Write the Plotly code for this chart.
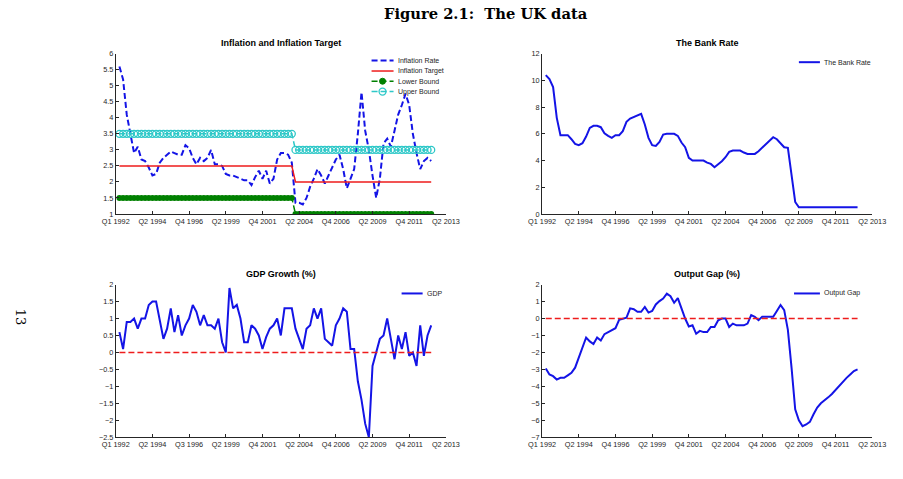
import plotly.graph_objects as go

# ---------------- data ----------------
quarters = list(range(1, 87))

tick_pos = [0, 10, 20, 30, 40, 50, 60, 70, 80, 90]
tick_labels = ["Q1 1992", "Q2 1994", "Q4 1996", "Q2 1999", "Q4 2001",
               "Q2 2004", "Q4 2006", "Q2 2009", "Q4 2011", "Q2 2013"]
tick_labels_gdp = ["Q1 1992", "Q2 1994", "Q3 1996", "Q2 1999", "Q4 2001",
                   "Q2 2004", "Q4 2006", "Q2 2009", "Q4 2011", "Q2 2013"]

inflation_rate = [
    5.6, 5.2, 4.1, 3.55, 2.9, 3.1, 2.7, 2.65, 2.45, 2.2,
    2.25, 2.6, 2.75, 2.85, 2.95, 2.9, 2.85, 2.85, 3.15, 3.05,
    2.75, 2.55, 2.75, 2.65, 2.75, 3.0, 2.55, 2.55, 2.5, 2.25,
    2.2, 2.2, 2.15, 2.1, 2.05, 2.05, 1.9, 2.15, 2.35, 2.1,
    2.35, 1.95, 2.1, 2.7, 2.9, 2.9, 2.85, 2.6, 1.35, 1.35,
    1.3, 1.5, 1.85, 2.1, 2.4, 2.2, 1.95, 2.2, 2.45, 2.7,
    2.85, 2.4, 1.8, 2.1, 2.4, 3.5, 4.8, 3.6, 3.0, 2.2,
    1.5, 2.1, 3.2, 3.35, 3.1, 3.6, 4.1, 4.4, 4.75, 4.4,
    3.5, 2.9, 2.4, 2.65, 2.75, 2.65]

inflation_target = [
    2.5, 2.5, 2.5, 2.5, 2.5, 2.5, 2.5, 2.5, 2.5, 2.5, 2.5, 2.5,
    2.5, 2.5, 2.5, 2.5, 2.5, 2.5, 2.5, 2.5, 2.5, 2.5, 2.5, 2.5,
    2.5, 2.5, 2.5, 2.5, 2.5, 2.5, 2.5, 2.5, 2.5, 2.5, 2.5, 2.5,
    2.5, 2.5, 2.5, 2.5, 2.5, 2.5, 2.5, 2.5, 2.5, 2.5, 2.5, 2.5,
    2.0, 2.0, 2.0, 2.0, 2.0, 2.0, 2.0, 2.0, 2.0, 2.0, 2.0, 2.0,
    2.0, 2.0, 2.0, 2.0, 2.0, 2.0, 2.0, 2.0, 2.0, 2.0, 2.0, 2.0,
    2.0, 2.0, 2.0, 2.0, 2.0, 2.0, 2.0, 2.0, 2.0, 2.0, 2.0, 2.0,
    2.0, 2.0]

lower_bound = [
    1.5, 1.5, 1.5, 1.5, 1.5, 1.5, 1.5, 1.5, 1.5, 1.5, 1.5, 1.5,
    1.5, 1.5, 1.5, 1.5, 1.5, 1.5, 1.5, 1.5, 1.5, 1.5, 1.5, 1.5,
    1.5, 1.5, 1.5, 1.5, 1.5, 1.5, 1.5, 1.5, 1.5, 1.5, 1.5, 1.5,
    1.5, 1.5, 1.5, 1.5, 1.5, 1.5, 1.5, 1.5, 1.5, 1.5, 1.5, 1.5,
    1.0, 1.0, 1.0, 1.0, 1.0, 1.0, 1.0, 1.0, 1.0, 1.0, 1.0, 1.0,
    1.0, 1.0, 1.0, 1.0, 1.0, 1.0, 1.0, 1.0, 1.0, 1.0, 1.0, 1.0,
    1.0, 1.0, 1.0, 1.0, 1.0, 1.0, 1.0, 1.0, 1.0, 1.0, 1.0, 1.0,
    1.0, 1.0]

upper_bound = [
    3.5, 3.5, 3.5, 3.5, 3.5, 3.5, 3.5, 3.5, 3.5, 3.5, 3.5, 3.5,
    3.5, 3.5, 3.5, 3.5, 3.5, 3.5, 3.5, 3.5, 3.5, 3.5, 3.5, 3.5,
    3.5, 3.5, 3.5, 3.5, 3.5, 3.5, 3.5, 3.5, 3.5, 3.5, 3.5, 3.5,
    3.5, 3.5, 3.5, 3.5, 3.5, 3.5, 3.5, 3.5, 3.5, 3.5, 3.5, 3.5,
    3.0, 3.0, 3.0, 3.0, 3.0, 3.0, 3.0, 3.0, 3.0, 3.0, 3.0, 3.0,
    3.0, 3.0, 3.0, 3.0, 3.0, 3.0, 3.0, 3.0, 3.0, 3.0, 3.0, 3.0,
    3.0, 3.0, 3.0, 3.0, 3.0, 3.0, 3.0, 3.0, 3.0, 3.0, 3.0, 3.0,
    3.0, 3.0]

bank_rate = [
    10.4, 10.1, 9.5, 7.2, 5.9, 5.9, 5.9, 5.6, 5.25, 5.15,
    5.3, 5.8, 6.45, 6.6, 6.6, 6.5, 6.05, 5.85, 5.7, 5.9,
    5.9, 6.2, 6.9, 7.15, 7.25, 7.35, 7.5, 6.7, 5.7, 5.15,
    5.1, 5.4, 5.95, 6.0, 6.0, 6.0, 5.85, 5.35, 5.0, 4.2,
    4.0, 4.0, 4.0, 4.0, 3.85, 3.75, 3.5, 3.7, 3.95, 4.25,
    4.65, 4.75, 4.75, 4.75, 4.6, 4.5, 4.5, 4.5, 4.7, 4.95,
    5.25, 5.45, 5.75, 5.6, 5.3, 5.0, 4.95, 3.0, 0.9, 0.5,
    0.5, 0.5, 0.5, 0.5, 0.5, 0.5, 0.5, 0.5, 0.5, 0.5,
    0.5, 0.5, 0.5, 0.5, 0.5, 0.5]

gdp_growth = [
    0.6, 0.1, 0.9, 0.9, 1.0, 0.7, 1.0, 1.0, 1.4, 1.5,
    1.5, 0.9, 0.4, 0.7, 1.3, 0.6, 1.1, 0.5, 0.8, 1.0,
    1.4, 1.2, 0.8, 1.1, 0.8, 0.8, 0.7, 1.0, 0.3, 0.0,
    1.9, 1.3, 1.4, 1.0, 0.3, 0.3, 0.8, 0.7, 0.5, 0.1,
    0.45, 0.7, 0.8, 1.0, 0.5, 1.3, 1.3, 1.3, 0.7, 0.4,
    0.1, 0.7, 0.8, 1.3, 1.0, 1.3, 0.4, 0.3, 0.2, 0.8,
    1.0, 1.3, 1.2, 0.1, 0.1, -0.85, -1.4, -2.1, -2.5, -0.4,
    0.0, 0.4, 0.5, 1.0, 0.4, -0.2, 0.5, 0.1, 0.6, -0.1,
    0.0, -0.4, 0.8, -0.1, 0.5, 0.8]

output_gap = [
    -2.95, -3.3, -3.4, -3.6, -3.5, -3.5, -3.35, -3.2, -2.9, -2.3,
    -1.65, -1.12, -1.35, -1.5, -1.12, -1.3, -0.92, -0.8, -0.67, -0.57,
    -0.08, 0.0, 0.05, 0.6, 0.55, 0.4, 0.4, 0.68, 0.35, 0.45,
    0.83, 1.03, 1.18, 1.47, 1.32, 0.93, 1.2, 0.6, 0.0, -0.47,
    -0.4, -0.9, -0.73, -0.8, -0.8, -0.5, -0.5, -0.1, 0.0, 0.0,
    -0.5, -0.3, -0.4, -0.4, -0.4, -0.3, 0.2, 0.1, -0.1, 0.1,
    0.1, 0.1, 0.1, 0.45, 0.8, 0.5, -0.67, -2.9, -5.35, -6.0,
    -6.35, -6.25, -6.1, -5.65, -5.25, -5.0, -4.85, -4.65, -4.45, -4.2,
    -3.95, -3.75, -3.5, -3.3, -3.1, -3.0]

zero_x = [1, 86]
zero_y = [0, 0]

# ---------------- styling ----------------
W, H = 903, 479
BLUE = "#1414e6"
RED = "#ee1c1c"
GREEN = "#008000"
CYAN = "#2ec8c8"
AX = "#262626"
FONT = "Liberation Sans, Arial, sans-serif"
DASH = "6px,3px"


def px_x(p):
    return p / W


def px_y(p):
    return 1 - p / H


fig = go.Figure()

# Panel 1: inflation
fig.add_trace(go.Scatter(x=quarters, y=inflation_rate, mode="lines", name="Inflation Rate",
                         line=dict(color=BLUE, width=2, dash=DASH), xaxis="x", yaxis="y"))
fig.add_trace(go.Scatter(x=quarters, y=inflation_target, mode="lines", name="Inflation Target",
                         line=dict(color=RED, width=1.5), xaxis="x", yaxis="y"))
fig.add_trace(go.Scatter(x=quarters, y=lower_bound, mode="lines+markers", name="Lower Bound",
                         line=dict(color=GREEN, width=1.5, dash=DASH),
                         marker=dict(symbol="circle", size=6, color=GREEN),
                         xaxis="x", yaxis="y"))
fig.add_trace(go.Scatter(x=quarters, y=upper_bound, mode="lines+markers", name="Upper Bound",
                         line=dict(color=CYAN, width=1.5, dash=DASH),
                         marker=dict(symbol="circle-open", size=7, color=CYAN, line=dict(width=1.3)),
                         xaxis="x", yaxis="y"))

# Panel 2: bank rate
fig.add_trace(go.Scatter(x=quarters, y=bank_rate, mode="lines", name="The Bank Rate",
                         line=dict(color=BLUE, width=2), xaxis="x2", yaxis="y2"))

# Panel 3: GDP
fig.add_trace(go.Scatter(x=quarters, y=gdp_growth, mode="lines", name="GDP",
                         line=dict(color=BLUE, width=2), xaxis="x3", yaxis="y3"))
fig.add_trace(go.Scatter(x=zero_x, y=zero_y, mode="lines", name="zero",
                         line=dict(color=RED, width=1.5, dash=DASH), xaxis="x3", yaxis="y3"))

# Panel 4: output gap
fig.add_trace(go.Scatter(x=quarters, y=output_gap, mode="lines", name="Output Gap",
                         line=dict(color=BLUE, width=2), xaxis="x4", yaxis="y4"))
fig.add_trace(go.Scatter(x=zero_x, y=zero_y, mode="lines", name="zero",
                         line=dict(color=RED, width=1.5, dash=DASH), xaxis="x4", yaxis="y4"))

xl = [px_x(105), px_x(445.7)]
xr = [px_x(545), px_x(885.7)]
yt = [px_y(214), px_y(50.7)]
yb = [px_y(441.5), px_y(286)]

common_ax = dict(showline=True, linecolor=AX, linewidth=1, ticks="inside", ticklen=3,
                 tickcolor=AX, tickwidth=1, showgrid=False, zeroline=False,
                 tickfont=dict(family=FONT, size=7.3, color=AX), mirror=False)


def xax(domain, anchor, labels):
    return dict(domain=domain, anchor=anchor, range=[0, 90], tickmode="array",
                tickvals=tick_pos, ticktext=labels, **common_ax)


def yax(domain, anchor, rng, dtick):
    return dict(domain=domain, anchor=anchor, range=rng, tick0=rng[0], dtick=dtick, **common_ax)


# ---------------- legends (drawn as keys + text) ----------------
shapes = []
annotations = []
leg_font = dict(family=FONT, size=7, color=AX)


def legend_entry(x0, x1, xt, y, label, color, width, dash=None, marker=None):
    line = dict(color=color, width=width)
    if dash:
        line["dash"] = dash
    shapes.append(dict(type="line", xref="paper", yref="paper",
                       x0=px_x(x0), x1=px_x(x1), y0=px_y(y), y1=px_y(y),
                       line=line, layer="above"))
    if marker == "filled":
        shapes.append(dict(type="circle", xref="paper", yref="paper",
                           xsizemode="pixel", ysizemode="pixel",
                           xanchor=px_x((x0 + x1) / 2), yanchor=px_y(y),
                           x0=-3, x1=3, y0=-3, y1=3,
                           fillcolor=color, line=dict(color=color, width=1), layer="above"))
    elif marker == "open":
        shapes.append(dict(type="circle", xref="paper", yref="paper",
                           xsizemode="pixel", ysizemode="pixel",
                           xanchor=px_x((x0 + x1) / 2), yanchor=px_y(y),
                           x0=-3.5, x1=3.5, y0=-3.5, y1=3.5,
                           fillcolor="rgba(0,0,0,0)", line=dict(color=color, width=1.3), layer="above"))
    annotations.append(dict(text=label, x=px_x(xt), y=px_y(y), xref="paper", yref="paper",
                            showarrow=False, xanchor="left", yanchor="middle",
                            font=leg_font, borderpad=0))


legend_entry(369, 391.7, 395, 57.7, "Inflation Rate", BLUE, 2, DASH)
legend_entry(369, 391.7, 395, 68.3, "Inflation Target", RED, 1.5)
legend_entry(369, 391.7, 395, 78.7, "Lower Bound", GREEN, 1.5, DASH, "filled")
legend_entry(369, 391.7, 395, 89.3, "Upper Bound", CYAN, 1.5, DASH, "open")
legend_entry(810, 831.7, 835, 59.3, "The Bank Rate", BLUE, 2)
legend_entry(400, 421.7, 425, 295, "GDP", BLUE, 2)
legend_entry(805, 831.7, 835, 295, "Output Gap", BLUE, 2)

title_font = dict(family=FONT, size=9, color="#000000")
annotations += [
    dict(text="<b>Inflation and Inflation Target</b>", x=(xl[0] + xl[1]) / 2, y=px_y(40),
         xref="paper", yref="paper", showarrow=False, font=title_font, xanchor="center", yanchor="middle"),
    dict(text="<b>The Bank Rate</b>", x=(xr[0] + xr[1]) / 2, y=px_y(40),
         xref="paper", yref="paper", showarrow=False, font=title_font, xanchor="center", yanchor="middle"),
    dict(text="<b>GDP Growth (%)</b>", x=(xl[0] + xl[1]) / 2, y=px_y(275.5),
         xref="paper", yref="paper", showarrow=False, font=title_font, xanchor="center", yanchor="middle"),
    dict(text="<b>Output Gap (%)</b>", x=(xr[0] + xr[1]) / 2, y=px_y(275.5),
         xref="paper", yref="paper", showarrow=False, font=title_font, xanchor="center", yanchor="middle"),
    dict(text="<b>Figure 2.1:  The UK data</b>", x=px_x(486.7), y=px_y(9.5),
         xref="paper", yref="paper", showarrow=False,
         font=dict(family="DejaVu Serif, serif", size=14.7, color="#000000"),
         xanchor="center", yanchor="middle"),
    dict(text="13", x=px_x(7.5), y=px_y(319), textangle=90,
         xref="paper", yref="paper", showarrow=False,
         font=dict(family="DejaVu Serif, serif", size=13, color="#000000"),
         xanchor="center", yanchor="middle"),
]

fig.update_layout(
    width=W, height=H, autosize=False,
    margin=dict(l=0, r=0, t=0, b=0),
    paper_bgcolor="white", plot_bgcolor="white",
    showlegend=False,
    xaxis=xax(xl, "y", tick_labels),
    yaxis=yax(yt, "x", [1, 6], 0.5),
    xaxis2=xax(xr, "y2", tick_labels),
    yaxis2=yax(yt, "x2", [0, 12], 2),
    xaxis3=xax(xl, "y3", tick_labels_gdp),
    yaxis3=yax(yb, "x3", [-2.5, 2], 0.5),
    xaxis4=xax(xr, "y4", tick_labels),
    yaxis4=yax(yb, "x4", [-7, 2], 1),
    shapes=shapes,
    annotations=annotations,
)

fig.write_html("out.html")
